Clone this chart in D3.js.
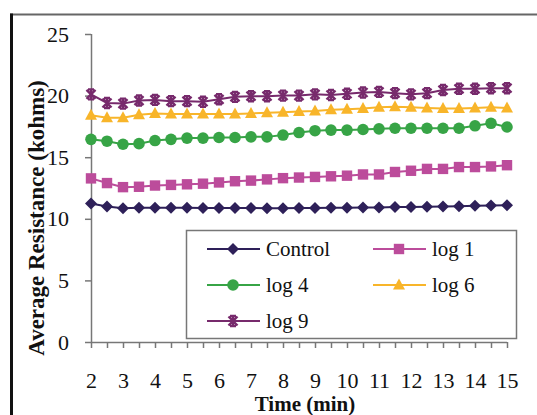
<!DOCTYPE html>
<meta charset="utf-8">
<title>Average Resistance over Time</title>
<script src="https://d3js.org/d3.v7.min.js"></script>
<style>

body {
  margin: 0;
  background: #fff;
}

text {
  font-family: "Liberation Serif", "Times New Roman", serif;
  fill: #111;
}

.title {
  font-size: 21px;
  font-weight: bold;
}

.legend text {
  font-size: 21px;
}

</style>
<body>
<script>

// time in minutes, one reading every half minute
var times = [2, 2.5, 3, 3.5, 4, 4.5, 5, 5.5, 6, 6.5, 7, 7.5, 8, 8.5, 9, 9.5,
             10, 10.5, 11, 11.5, 12, 12.5, 13, 13.5, 14, 14.5, 15];
var xTicks = [2, 3, 4, 5, 6, 7, 8, 9, 10, 11, 12, 13, 14, 15];
var yTicks = [0, 5, 10, 15, 20, 25];

var control = [11.25, 11.0, 10.85, 10.9, 10.9, 10.9, 10.9, 10.88, 10.88, 10.88, 10.88, 10.85, 10.85, 10.88,
               10.88, 10.9, 10.9, 10.92, 10.92, 10.95, 10.95, 10.97, 11.0, 11.02, 11.05, 11.08, 11.1];
var log1 = [13.28, 12.9, 12.57, 12.6, 12.7, 12.75, 12.8, 12.85, 12.95, 13.05, 13.1, 13.2, 13.3, 13.35,
            13.4, 13.45, 13.5, 13.6, 13.6, 13.8, 13.9, 14.05, 14.05, 14.2, 14.2, 14.25, 14.35];
var log4 = [16.45, 16.3, 16.05, 16.1, 16.35, 16.45, 16.55, 16.55, 16.6, 16.6, 16.65, 16.65, 16.8, 17.0,
            17.15, 17.2, 17.2, 17.25, 17.3, 17.35, 17.35, 17.35, 17.35, 17.35, 17.55, 17.75, 17.45];
var log6 = [18.4, 18.2, 18.2, 18.45, 18.55, 18.5, 18.5, 18.5, 18.5, 18.5, 18.55, 18.6, 18.65, 18.7,
            18.75, 18.85, 18.9, 18.95, 19.05, 19.1, 19.05, 19.0, 18.95, 18.95, 19.0, 19.05, 19.0];
var log9 = [20.1, 19.4, 19.35, 19.6, 19.65, 19.55, 19.55, 19.5, 19.7, 19.9, 19.95, 19.95, 20.0, 20.0,
            20.1, 20.05, 20.15, 20.25, 20.3, 20.2, 20.1, 20.2, 20.45, 20.55, 20.55, 20.6, 20.6];

var series = [
  {name: "Control", values: control, color: "#2e2059", marker: "diamond"},
  {name: "log 1", values: log1, color: "#bc4c9b", marker: "square"},
  {name: "log 4", values: log4, color: "#37a446", marker: "circle"},
  {name: "log 6", values: log6, color: "#f8b52a", marker: "triangle"},
  {name: "log 9", values: log9, color: "#772a6c", marker: "star"}
];

var width = 537,
    height = 415;

var x = d3.scaleLinear().domain([2, 15]).range([91, 507]);
var y = d3.scaleLinear().domain([0, 25]).range([342, 34]);

var svg = d3.select("body").append("svg")
  .attr("width", width)
  .attr("height", height);

// outer frame: grey top edge, heavy black left edge
svg.append("line")
  .attr("x1", 10).attr("x2", width)
  .attr("y1", 14.5).attr("y2", 14.5)
  .style("stroke", "#666")
  .style("stroke-width", 2);

svg.append("line")
  .attr("x1", 11.5).attr("x2", 11.5)
  .attr("y1", 13.5).attr("y2", height)
  .style("stroke", "#111")
  .style("stroke-width", 3);

// axes
var yAxis = svg.append("g")
  .attr("transform", "translate(91,0)")
  .call(d3.axisLeft(y).tickValues(yTicks).tickSize(6).tickPadding(16));

var xAxis = svg.append("g")
  .attr("transform", "translate(0,342)")
  .call(d3.axisBottom(x).tickValues(times).tickSize(6).tickPadding(24)
    .tickFormat(function(d) { return xTicks.indexOf(d) >= 0 ? d : ""; }));

[yAxis, xAxis].forEach(function(g) {
  g.attr("font-family", null).attr("font-size", null);
  g.select(".domain").style("stroke", "#777").style("stroke-width", 1.5);
  g.selectAll(".tick line").style("stroke", "#777").style("stroke-width", 1.5);
  g.selectAll(".tick text")
    .style("font-family", "'Liberation Serif', serif")
    .style("font-size", "22px")
    .style("fill", "#111");
});
// excel draws the axis line without the outer ticks
yAxis.select(".domain").attr("d", "M0.5," + y(25) + "V" + y(0));
xAxis.select(".domain").attr("d", "M" + x(2) + ",0.5H" + x(15));

svg.append("text")
  .attr("class", "title")
  .attr("x", 305)
  .attr("y", 411)
  .attr("text-anchor", "middle")
  .text("Time (min)");

svg.append("text")
  .attr("class", "title")
  .style("font-size", "23px")
  .attr("transform", "translate(44,218) rotate(-90)")
  .attr("text-anchor", "middle")
  .text("Average Resistance (kohms)");

function drawMarker(sel, type, color) {
  if (type === "circle") {
    sel.append("circle").attr("r", 5.8).style("fill", color);
  } else if (type === "square") {
    sel.append("rect").attr("x", -5.2).attr("y", -5.2).attr("width", 10.4).attr("height", 10.4).style("fill", color);
  } else if (type === "diamond") {
    sel.append("path").attr("d", "M0,-6L6,0L0,6L-6,0Z").style("fill", color);
  } else if (type === "triangle") {
    sel.append("path").attr("d", "M0,-6.5L6,4.5L-6,4.5Z").style("fill", color);
  } else {
    sel.append("path").attr("d", "M-4.5,-4.5L4.5,4.5M-4.5,4.5L4.5,-4.5M0,-5.5V5.5M-3,-5H3M-3,5H3")
      .style("stroke", color).style("stroke-width", 2.4).style("fill", "none");
  }
}

var line = d3.line()
  .x(function(d, i) { return x(times[i]); })
  .y(function(d) { return y(d); });

series.forEach(function(s) {
  var g = svg.append("g");
  g.append("path")
    .attr("d", line(s.values))
    .style("fill", "none")
    .style("stroke", s.color)
    .style("stroke-width", 2);
  g.selectAll("g")
    .data(s.values)
    .enter().append("g")
    .attr("transform", function(d, i) { return "translate(" + x(times[i]) + "," + y(d) + ")"; })
    .each(function() { drawMarker(d3.select(this), s.marker, s.color); });
});

// legend
var legend = svg.append("g").attr("class", "legend");

legend.append("rect")
  .attr("x", 186.5).attr("y", 230.5)
  .attr("width", 330).attr("height", 108)
  .style("fill", "#fff")
  .style("stroke", "#777")
  .style("stroke-width", 1.5);

var item = legend.selectAll(".item")
  .data(series)
  .enter().append("g")
  .attr("class", "item")
  .attr("transform", function(d, i) {
    return "translate(" + (i % 2 ? 373 : 207) + "," + (249 + Math.floor(i / 2) * 36) + ")";
  });

item.append("line")
  .attr("x1", 0).attr("x2", 53)
  .style("stroke", function(d) { return d.color; })
  .style("stroke-width", 2);

item.each(function(d) {
  var m = d3.select(this).append("g").attr("transform", "translate(26,0)");
  drawMarker(m, d.marker, d.color);
});

item.append("text")
  .attr("x", 59)
  .attr("y", 7)
  .text(function(d) { return d.name; });

</script>
</body>
